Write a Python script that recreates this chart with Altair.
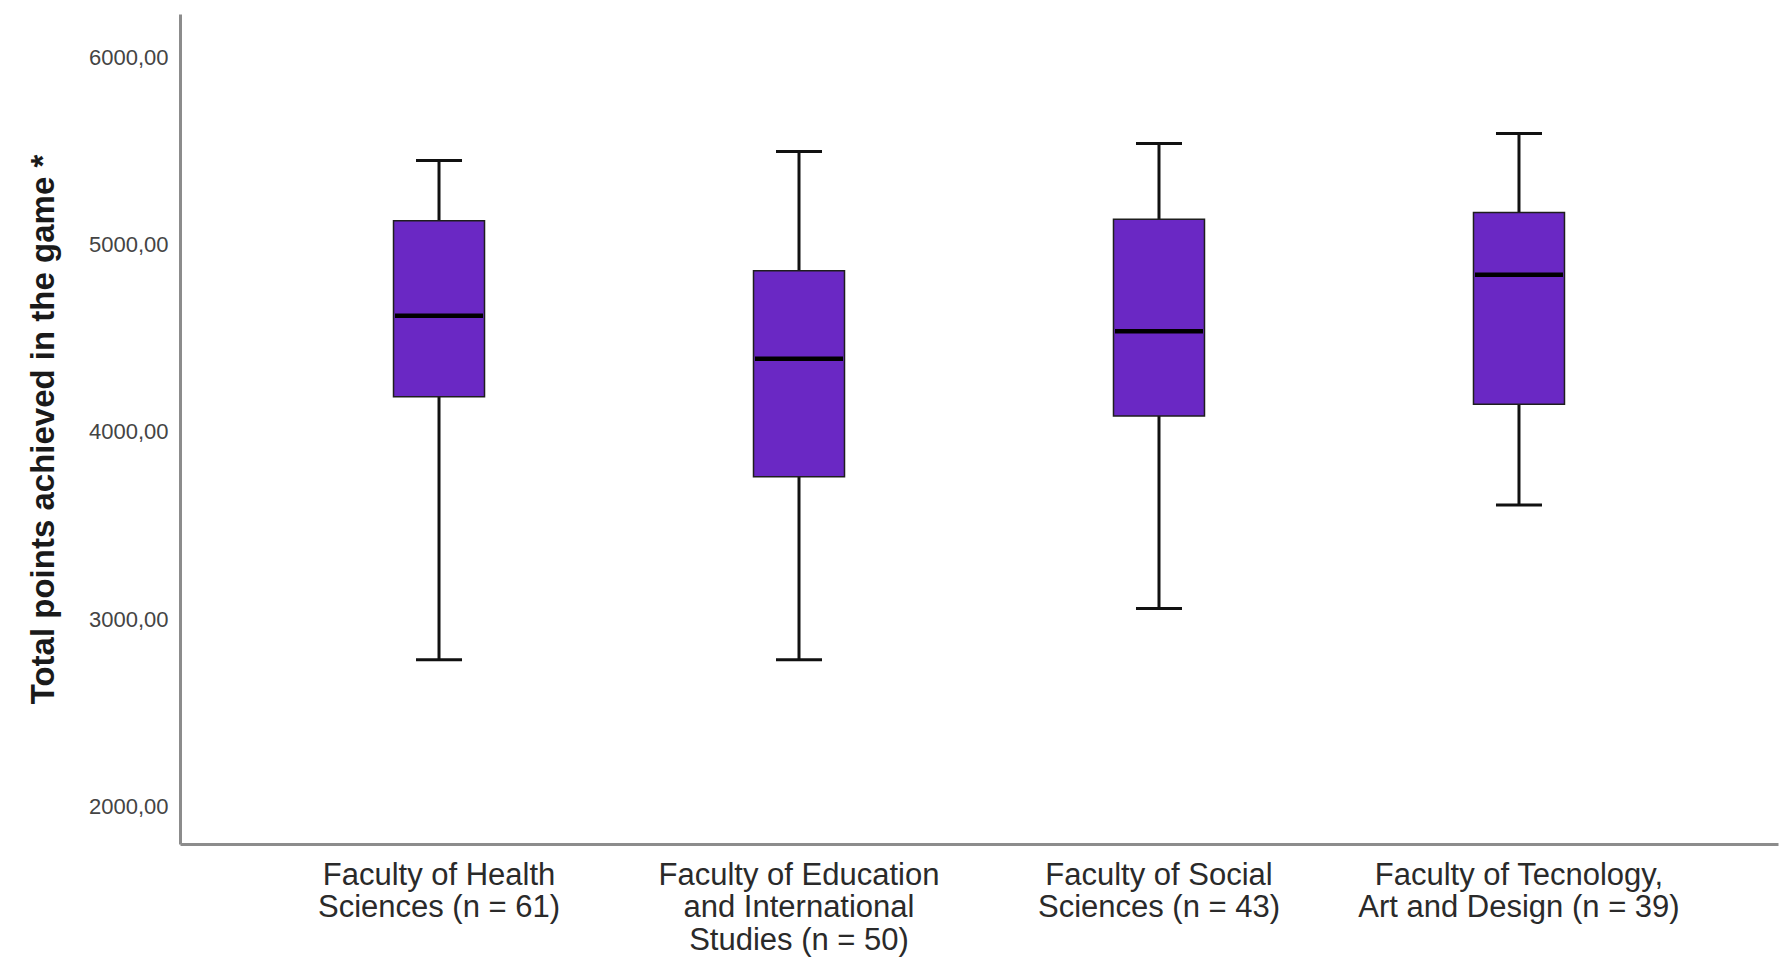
import altair as alt
import pandas as pd

# Categories (multi-line labels separated by "|")
faculties = [
    "Faculty of Health|Sciences (n = 61)",
    "Faculty of Education|and International|Studies (n = 50)",
    "Faculty of Social|Sciences (n = 43)",
    "Faculty of Tecnology,|Art and Design (n = 39)",
]
whisker_low = [2782, 2782, 3056, 3609]
q1 = [4188, 3761, 4085, 4149]
median = [4621, 4391, 4539, 4841]
q3 = [5130, 4862, 5138, 5173]
whisker_high = [5452, 5500, 5543, 5596]

y_ticks = [2000, 3000, 4000, 5000, 6000]

df = pd.DataFrame({
    "faculty": faculties,
    "lo": whisker_low,
    "q1": q1,
    "med": median,
    "q3": q3,
    "hi": whisker_high,
})

FILL = "#6a28c4"

x_enc = alt.X(
    "faculty:N",
    sort=faculties,
    scale=alt.Scale(type="band", paddingInner=0, paddingOuter=0.2195),
    axis=alt.Axis(
        title=None,
        labelAngle=0,
        labelFontSize=31,
        labelLineHeight=32.5,
        labelFont="Liberation Sans",
        labelColor="#2a2a2a",
        labelPadding=16,
        labelLimit=0,
        labelExpr="split(datum.label, '|')",
        ticks=False,
        domainColor="#8c8c8c",
        domainWidth=3,
        grid=False,
    ),
)

y_scale = alt.Scale(domain=[1797, 6235], nice=False, zero=False)
y_axis = alt.Axis(
    title="Total points achieved in the game *",
    titleFont="Liberation Sans",
    titleFontSize=33,
    titleFontWeight="bold",
    titleColor="#1a1a1a",
    titlePadding=28,
    titleLimit=0,
    values=y_ticks,
    labelExpr="replace(format(datum.value, '.2f'), '.', ',')",
    labelFont="Liberation Sans",
    labelFontSize=22,
    labelColor="#444444",
    labelPadding=12,
    ticks=False,
    domainColor="#8c8c8c",
    domainWidth=3,
    grid=False,
)

base = alt.Chart(df)

whiskers = base.mark_rule(color="#111111", strokeWidth=3).encode(
    x=x_enc,
    y=alt.Y("lo:Q", scale=y_scale, axis=y_axis),
    y2="hi:Q",
)

boxes = base.mark_bar(size=91, fill=FILL, stroke="#1e1e1e", strokeWidth=1.5, opacity=1).encode(
    x=x_enc,
    y=alt.Y("q1:Q", scale=y_scale),
    y2="q3:Q",
)

medians = base.mark_tick(color="#000000", size=88, thickness=4.5, opacity=1).encode(
    x=x_enc,
    y=alt.Y("med:Q", scale=y_scale),
)

caps_lo = base.mark_tick(color="#111111", size=46, thickness=3, opacity=1).encode(
    x=x_enc,
    y=alt.Y("lo:Q", scale=y_scale),
)
caps_hi = base.mark_tick(color="#111111", size=46, thickness=3, opacity=1).encode(
    x=x_enc,
    y=alt.Y("hi:Q", scale=y_scale),
)

chart = (
    alt.layer(whiskers, boxes, medians, caps_lo, caps_hi)
    .properties(
        width=1598,
        height=830,
        autosize=alt.AutoSizeParams(type="none"),
        padding={"left": 172, "top": 6, "right": 3, "bottom": 116},
    )
    .configure(background="white")
    .configure_view(strokeWidth=0, stroke="transparent")
)

chart.save("out.html", embed_options={"renderer": "svg", "actions": False})
